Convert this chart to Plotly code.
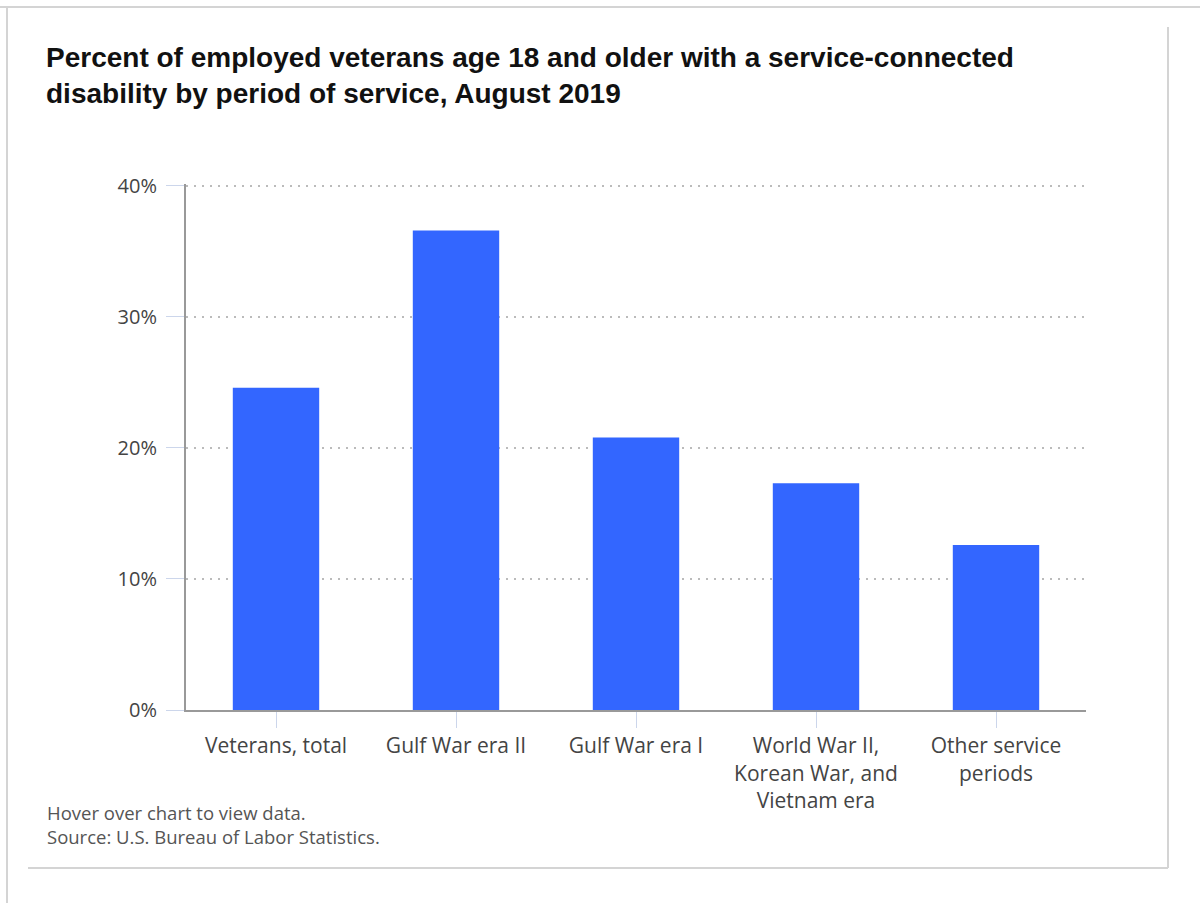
import plotly.graph_objects as go

categories = [
    "Veterans, total",
    "Gulf War era II",
    "Gulf War era I",
    "World War II,<br>Korean War, and<br>Vietnam era",
    "Other service<br>periods",
]
values = [24.6, 36.6, 20.8, 17.3, 12.6]
y_ticks = [0, 10, 20, 30, 40]
y_tick_labels = ["0%", "10%", "20%", "30%", "40%"]

W, H = 1200, 903
YMAX = 40.15
SCALE = 13.1  # px per percent
L, R, B = 186, 1086, 710
T = B - YMAX * SCALE

def px(x):
    return (x - L) / (R - L)

def py(y):
    return (B - y) / (B - T)

fig = go.Figure()
fig.add_trace(go.Bar(
    x=categories,
    y=values,
    marker=dict(color="#3366ff", line=dict(width=0)),
    width=0.48,
    hovertemplate="%{x}: %{y:.1f}%<extra></extra>",
))

border = "#d4d4d4"
shapes = [
    dict(type="line", xref="paper", yref="paper", x0=px(0), x1=px(1200), y0=py(7), y1=py(7),
         line=dict(color=border, width=2)),
    dict(type="line", xref="paper", yref="paper", x0=px(7), x1=px(7), y0=py(7), y1=py(903),
         line=dict(color=border, width=2)),
    dict(type="line", xref="paper", yref="paper", x0=px(1168), x1=px(1168), y0=py(27), y1=py(868),
         line=dict(color=border, width=2)),
    dict(type="line", xref="paper", yref="paper", x0=px(28), x1=px(1168), y0=py(868), y1=py(868),
         line=dict(color=border, width=2)),
]

annotations = [
    dict(text="<b>Percent of employed veterans age 18 and older with a service-connected<br>disability by period of service, August 2019</b>",
         xref="paper", yref="paper", x=px(44), y=py(40), xanchor="left", yanchor="top",
         align="left", showarrow=False,
         font=dict(family="Liberation Sans, Arial, sans-serif", size=28, color="#111111")),
    dict(text="Hover over chart to view data.<br>Source: U.S. Bureau of Labor Statistics.",
         xref="paper", yref="paper", x=px(45), y=py(798), xanchor="left", yanchor="top",
         align="left", showarrow=False,
         font=dict(family="Open Sans, sans-serif", size=18.5, color="#555555")),
]

fig.update_layout(
    width=W, height=H,
    margin=dict(l=L, r=W - R, t=T, b=H - B, pad=0),
    paper_bgcolor="white", plot_bgcolor="white",
    showlegend=False,
    shapes=shapes,
    annotations=annotations,
    bargap=0.52,
    font=dict(family="Open Sans, sans-serif", size=20, color="#444444"),
)
fig.update_xaxes(
    showline=True, linecolor="#999999", linewidth=2,
    ticks="outside", ticklen=16, tickcolor="#ccd6eb", tickwidth=1,
    tickfont=dict(size=21, color="#444444"),
    showgrid=False,
)
fig.update_yaxes(
    range=[0, YMAX], tickvals=y_ticks, ticktext=y_tick_labels,
    showline=True, linecolor="#999999", linewidth=2,
    ticks="outside", ticklen=18, tickcolor="#ccd6eb", tickwidth=1,
    ticklabelstandoff=5,
    tickfont=dict(size=20, color="#444444"),
    showgrid=True, gridcolor="#bbbbbb", griddash="2px,6px", gridwidth=1.5,
    zeroline=False,
)

fig.write_html("out.html")
